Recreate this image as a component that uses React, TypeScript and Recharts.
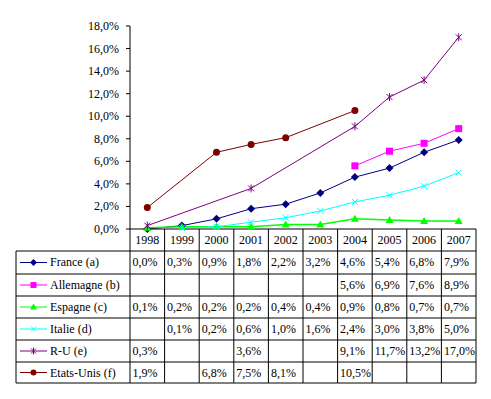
import React from 'react';
import { LineChart, Line, XAxis, YAxis } from 'recharts';

const years = ['1998', '1999', '2000', '2001', '2002', '2003', '2004', '2005', '2006', '2007'];
const france = [0.0, 0.3, 0.9, 1.8, 2.2, 3.2, 4.6, 5.4, 6.8, 7.9];
const allemagne = [null, null, null, null, null, null, 5.6, 6.9, 7.6, 8.9];
const espagne = [0.1, 0.2, 0.2, 0.2, 0.4, 0.4, 0.9, 0.8, 0.7, 0.7];
const italie = [null, 0.1, 0.2, 0.6, 1.0, 1.6, 2.4, 3.0, 3.8, 5.0];
const ru = [0.3, null, null, 3.6, null, null, 9.1, 11.7, 13.2, 17.0];
const etatsUnis = [1.9, null, 6.8, 7.5, 8.1, null, 10.5, null, null, null];
const yTicks = [0, 2, 4, 6, 8, 10, 12, 14, 16, 18];

type Shape = 'diamond' | 'square' | 'triangle' | 'x' | 'star' | 'circle';
const series: { key: string; name: string; values: (number | null)[]; color: string; shape: Shape; width: number }[] = [
  { key: 'france', name: 'France (a)', values: france, color: '#000080', shape: 'diamond', width: 1 },
  { key: 'allemagne', name: 'Allemagne (b)', values: allemagne, color: '#FF00FF', shape: 'square', width: 1 },
  { key: 'espagne', name: 'Espagne (c)', values: espagne, color: '#00FF00', shape: 'triangle', width: 1.5 },
  { key: 'italie', name: 'Italie (d)', values: italie, color: '#00FFFF', shape: 'x', width: 1 },
  { key: 'ru', name: 'R-U (e)', values: ru, color: '#800080', shape: 'star', width: 1 },
  { key: 'etatsUnis', name: 'Etats-Unis (f)', values: etatsUnis, color: '#800000', shape: 'circle', width: 1 },
];

const data = years.map((year, i) => {
  const row: Record<string, any> = { year };
  series.forEach((s) => {
    row[s.key] = s.values[i];
  });
  return row;
});

const W = 491;
const H = 399;
const LEFT = 130;
const RIGHT = 15;
const TOP = 26;
const AXIS_H = 170;
const PLOT_W = W - LEFT - RIGHT;
const COL_W = PLOT_W / years.length;
const LEGEND_LEFT = 16;
const ROW_OFF = [0, 22, 45, 67, 89, 111, 133, 154];
const FONT = "'Liberation Serif', 'DejaVu Serif', serif";
const textStyle: React.CSSProperties = { fontFamily: FONT, fontSize: 12 };

const fmt = (v: number) => v.toFixed(1).replace('.', ',') + '%';

function marker(shape: Shape, cx: number, cy: number, color: string, s: number, key?: string) {
  switch (shape) {
    case 'diamond':
      return <polygon key={key} points={`${cx},${cy - s} ${cx + s},${cy} ${cx},${cy + s} ${cx - s},${cy}`} fill={color} />;
    case 'square':
      return <rect key={key} x={cx - s + 0.5} y={cy - s + 0.5} width={2 * s - 1} height={2 * s - 1} fill={color} />;
    case 'triangle':
      return <polygon key={key} points={`${cx},${cy - s} ${cx + s},${cy + s - 1} ${cx - s},${cy + s - 1}`} fill={color} />;
    case 'x':
      return (
        <g key={key} stroke={color} strokeWidth={1}>
          <line x1={cx - s + 1} y1={cy - s + 1} x2={cx + s - 1} y2={cy + s - 1} />
          <line x1={cx - s + 1} y1={cy + s - 1} x2={cx + s - 1} y2={cy - s + 1} />
        </g>
      );
    case 'star':
      return (
        <g key={key} stroke={color} strokeWidth={1}>
          <line x1={cx - s + 1} y1={cy - s + 1} x2={cx + s - 1} y2={cy + s - 1} />
          <line x1={cx - s + 1} y1={cy + s - 1} x2={cx + s - 1} y2={cy - s + 1} />
          <line x1={cx} y1={cy - s} x2={cx} y2={cy + s} />
        </g>
      );
    case 'circle':
    default:
      return <circle key={key} cx={cx} cy={cy} r={s - 0.5} fill={color} />;
  }
}

const makeDot = (shape: Shape, color: string) => (props: any) => {
  const { cx, cy, index, value } = props;
  if (cx == null || cy == null || value == null || (Array.isArray(value) && value[1] == null)) {
    return <g key={`e-${index}`} />;
  }
  return marker(shape, cx, cy, color, 4, `d-${index}`);
};

const YTick = (props: any) => {
  const { x, y, payload } = props;
  return (
    <text x={x} y={y + 4} textAnchor="end" fill="#000" fontFamily={FONT} fontSize={12} style={textStyle}>
      {fmt(payload.value)}
    </text>
  );
};

const TableTick = (props: any) => {
  const { x, y, index, payload } = props;
  const i: number = index ?? payload?.index ?? 0;
  const left = x - COL_W / 2;
  const right = x + COL_W / 2;
  const bottom = y + ROW_OFF[ROW_OFF.length - 1];
  const els: React.ReactNode[] = [];
  ROW_OFF.slice(1).forEach((o, k) => {
    els.push(<line key={`h${k}`} x1={left} x2={right} y1={y + o} y2={y + o} stroke="#000" strokeWidth={1} />);
  });
  els.push(<line key="vr" x1={right} x2={right} y1={y} y2={bottom} stroke="#000" strokeWidth={1} />);
  els.push(
    <text key="yr" x={x} y={y + 15} textAnchor="middle" fill="#000" fontFamily={FONT} fontSize={12} style={textStyle}>
      {payload.value}
    </text>
  );
  series.forEach((s, k) => {
    const v = s.values[i];
    if (v != null) {
      els.push(
        <text key={`v${k}`} x={left + 2.5} y={y + ROW_OFF[k + 1] + 15} fill="#000" fontFamily={FONT} fontSize={12} style={textStyle}>
          {fmt(v)}
        </text>
      );
    }
  });
  if (i === 0) {
    els.push(<line key="vl" x1={left} x2={left} y1={y} y2={bottom} stroke="#000" strokeWidth={1} />);
    els.push(
      <line key="lgl" x1={LEGEND_LEFT} x2={LEGEND_LEFT} y1={y + ROW_OFF[1]} y2={bottom} stroke="#000" strokeWidth={1} />
    );
    ROW_OFF.slice(1).forEach((o, k) => {
      els.push(<line key={`lh${k}`} x1={LEGEND_LEFT} x2={left} y1={y + o} y2={y + o} stroke="#000" strokeWidth={1} />);
    });
    series.forEach((s, k) => {
      const cy = y + (ROW_OFF[k + 1] + ROW_OFF[k + 2]) / 2;
      els.push(<line key={`ll${k}`} x1={20} x2={47} y1={cy} y2={cy} stroke={s.color} strokeWidth={1} />);
      els.push(marker(s.shape, 33.5, cy, s.color, 3.5, `lm${k}`));
      els.push(
        <text key={`lt${k}`} x={50} y={y + ROW_OFF[k + 1] + 15} fill="#000" fontFamily={FONT} fontSize={12} style={textStyle}>
          {s.name}
        </text>
      );
    });
  }
  return <g>{els}</g>;
};

export default function App() {
  return (
    <div style={{ position: 'absolute', left: 0, top: 0, width: W, height: H, background: '#fff', fontFamily: FONT }}>
      <LineChart width={W} height={H} data={data} margin={{ top: TOP, right: RIGHT, bottom: 0, left: 0 }} style={{ fontFamily: FONT }}>
        <XAxis
          dataKey="year"
          height={AXIS_H}
          interval={0}
          tickLine={false}
          tickSize={0}
          tickMargin={0}
          axisLine={{ stroke: '#000', strokeWidth: 1 }}
          padding={{ left: COL_W / 2, right: COL_W / 2 }}
          tick={(p: any) => <TableTick {...p} />}
        />
        <YAxis
          width={LEFT}
          domain={[0, 18]}
          ticks={yTicks}
          interval={0}
          tickSize={4}
          tickMargin={7}
          tickLine={{ stroke: '#000' }}
          axisLine={{ stroke: '#000', strokeWidth: 1 }}
          tick={(p: any) => <YTick {...p} />}
        />
        {series.map((s) => (
          <Line
            key={s.key}
            dataKey={s.key}
            name={s.name}
            stroke={s.color}
            strokeWidth={s.width}
            connectNulls
            isAnimationActive={false}
            dot={makeDot(s.shape, s.color)}
            activeDot={false}
          />
        ))}
      </LineChart>
    </div>
  );
}
